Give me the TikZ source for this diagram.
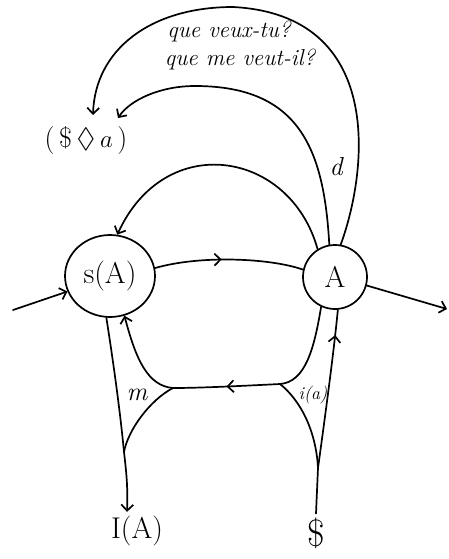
\documentclass[tikz,border=0pt]{standalone}
\usepackage{amssymb}
\usetikzlibrary{arrows.meta,decorations.markings,shapes.geometric}
\begin{document}
\begin{tikzpicture}[x=1pt,y=-1pt,line width=1.7pt,line cap=round,
  tip/.style={-{Straight Barb[length=6pt,width=12pt]}},
  midtip/.style={postaction={decorate},decoration={markings,
    mark=at position #1 with {\arrow{Straight Barb[length=6pt,width=12pt]}}}},
  bigcap/.style={font=\fontsize{30}{36}\selectfont},
  handtxt/.style={font=\fontsize{23}{28}\selectfont\itshape},
  lbl/.style={font=\fontsize{26}{30}\selectfont\itshape}]
\useasboundingbox (0,0) rectangle (449,559);
% nodes
\node[ellipse,draw,minimum width=90pt,minimum height=82pt,inner sep=0pt,bigcap] (sA) at (110,276) {s(A)};
\node[circle,draw,minimum size=64pt,inner sep=0pt,bigcap] (A) at (335,277) {A};
\node[bigcap] (IA) at (137,531) {I(A)};
\node[font=\fontsize{38}{44}\selectfont] (S) at (316,533) {\$};
\node[font=\fontsize{28}{32}\selectfont] (Sa) at (86,141) {(\,\$\,$\Diamond$\,$a$\,)};
\node[handtxt] (q1) at (229,32) {que veux-tu?};
\node[handtxt] (q2) at (240,60) {que me veut-il?};
\node[lbl] (d) at (336,167) {d};
\node[lbl] (m) at (137,395) {m};
\node[font=\fontsize{18}{22}\selectfont\itshape] (ia) at (313,395) {i(a)};
% coordinates
\coordinate (lin) at (13,310);
\coordinate (rout) at (447,309);
\coordinate (jL) at (173,388);
\coordinate (jR) at (280,384);
\coordinate (jM) at (124,452);
\coordinate (cusp) at (318,468);
% connectors
\draw[tip] (lin) -- (sA.200);
\draw[midtip=0.45] (sA.10) .. controls (200,255) and (270,258) .. (A.167);
\draw[tip] (A.345) -- (rout);
\draw[tip] (A.122) .. controls (290,150) and (165,130) .. (sA.80);
\draw[tip] (A.100) .. controls (324,150) and (300,86) .. (195,86)
  .. controls (160,86) and (130,100) .. (118,118);
\draw[tip] (A.80) .. controls (368,170) and (385,15) .. (233,7)
  .. controls (150,7) and (95,50) .. (93,115);
\draw (sA.265) .. controls (113,360) and (120,410) .. (jM);
\draw[tip] (jM) .. controls (126,470) and (128,485) .. ([xshift=-10pt]IA.north);
\draw[tip] (jL) .. controls (148,386) and (136,360) .. (sA.290);
\draw[midtip=0.5] (jR) .. controls (240,386) and (200,388) .. (jL);
\draw (A.245) .. controls (314,350) and (305,382) .. (jR);
\draw (jL) .. controls (150,400) and (128,430) .. (jM);
\draw (jR) .. controls (300,400) and (316,430) .. (cusp);
\draw (S.north) -- (cusp);
\draw[midtip=0.84] (cusp) .. controls (326,410) and (334,350) .. (A.275);
\end{tikzpicture}
\end{document}
